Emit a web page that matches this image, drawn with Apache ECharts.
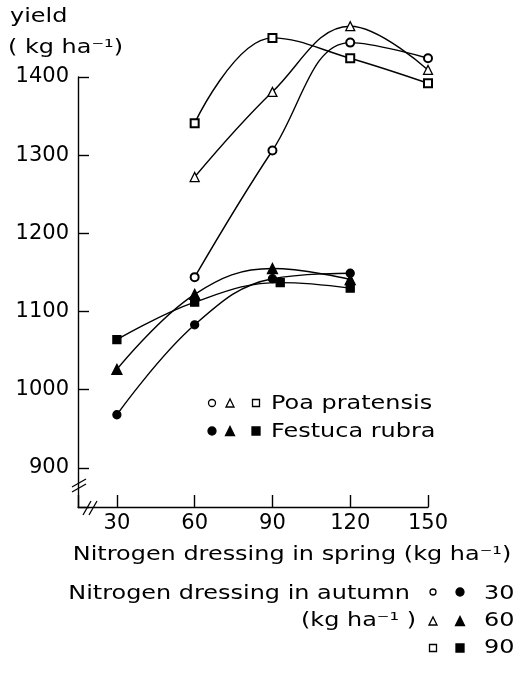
<!DOCTYPE html>
<html>
<head>
<meta charset="utf-8">
<script src="https://cdn.jsdelivr.net/npm/echarts@6/dist/echarts.min.js"></script>
<style>
  html, body { margin: 0; padding: 0; background: #fff; }
  #chart { width: 526px; height: 678px; }
</style>
</head>
<body>
<div id="chart"></div>
<script>
var springN = [30, 60, 90, 120, 150];
// festuca 90 points are drawn slightly offset at 90 in the original
var springNFes90 = [30, 60, 93, 120, 150];

var poa30 = [null, 1144, 1306, 1444, 1424];
var poa60 = [null, 1272, 1381, 1465, 1409];
var poa90 = [null, 1341, 1450, 1424, 1392];
var fes30 = [968, 1083, 1142, 1149, null];
var fes60 = [1026, 1122, 1155, 1141, null];
var fes90 = [1064, 1112, 1137, 1130, null];

var yTicks = [900, 1000, 1100, 1200, 1300, 1400];
var xTicks = [30, 60, 90, 120, 150];

var FONT = 'DejaVu Sans';
var SX = 1.26;
var myChart = echarts.init(document.getElementById('chart'));

function pairs(xs, ys) {
    var out = [];
    for (var i = 0; i < ys.length; i++) {
        if (ys[i] != null) out.push([xs[i], ys[i]]);
    }
    return out;
}

function lineSeries(name, xs, ys, symbol, size, fill) {
    return {
        name: name,
        type: 'line',
        smooth: 0.4,
        clip: false,
        symbol: symbol,
        symbolSize: size,
        showAllSymbol: true,
        lineStyle: { color: '#000', width: 1.4 },
        itemStyle: { color: fill || '#000', borderColor: '#000', borderWidth: 1.3 },
        emphasis: { disabled: true },
        data: pairs(xs, ys)
    };
}

function txt(x, y, text, align) {
    return {
        type: 'text', x: x, y: y, scaleX: SX,
        style: { text: text, font: '19px ' + FONT, fill: '#000', align: align || 'left', verticalAlign: 'middle' }
    };
}
function circ(x, y, r, filled) {
    return { type: 'circle', shape: { cx: x, cy: y, r: r },
        style: { fill: filled ? '#000' : '#fff', stroke: '#000', lineWidth: 1.3 } };
}
function sq(x, y, s, filled) {
    return { type: 'rect', shape: { x: x - s / 2, y: y - s / 2, width: s, height: s },
        style: { fill: filled ? '#000' : '#fff', stroke: '#000', lineWidth: 1.3 } };
}
function triangle(x, y, s, filled) {
    return { type: 'polygon', shape: { points: [[x - s / 2, y + s / 2], [x, y - s / 2], [x + s / 2, y + s / 2]] },
        style: { fill: filled ? '#000' : '#fff', stroke: '#000', lineWidth: 1.3 } };
}
function seg(x1, y1, x2, y2) {
    return { type: 'line', shape: { x1: x1, y1: y1, x2: x2, y2: y2 },
        style: { stroke: '#000', lineWidth: 1.3 } };
}

var graphics = [
    txt(10, 17, 'yield'),
    txt(8, 48, '( kg ha⁻¹)'),
    // axis breaks
    { type: 'rect', shape: { x: 74, y: 481, width: 8, height: 8 }, style: { fill: '#fff' } },
    seg(72, 487, 86, 479), seg(72, 492, 86, 484),
    { type: 'rect', shape: { x: 87, y: 503, width: 7, height: 8 }, style: { fill: '#fff' } },
    seg(83, 515, 91, 501), seg(89, 515, 97, 501),
    // in-plot legend
    circ(212, 403, 3.5, false), triangle(230, 403, 8, false), sq(256, 403, 7, false),
    txt(271, 404, 'Poa pratensis'),
    circ(212, 431, 4, true), triangle(230, 431, 9, true), sq(256, 431, 8, true),
    txt(271, 432, 'Festuca rubra'),
    // x axis name
    txt(292, 555, 'Nitrogen dressing in spring (kg ha⁻¹)', 'center'),
    // autumn legend
    txt(410, 594, 'Nitrogen dressing in autumn', 'right'),
    circ(433, 592, 3, false), circ(460, 592, 4, true), txt(484, 594, '30'),
    txt(416, 621, '(kg ha⁻¹ )', 'right'),
    triangle(433, 621, 8, false), triangle(460, 621, 9, true), txt(484, 621, '60'),
    sq(433, 648, 7, false), sq(460, 648, 8, true), txt(484, 648, '90')
];

var option = {
    backgroundColor: '#fff',
    animation: false,
    textStyle: { fontFamily: FONT },
    grid: { left: 78, right: 98, top: 77, bottom: 171 },
    xAxis: {
        type: 'value',
        min: 15,
        max: 150,
        splitNumber: 5,
        axisLine: { lineStyle: { color: '#000', width: 1.4 } },
        axisTick: { inside: true, length: 12, lineStyle: { color: '#000', width: 1.4 } },
        axisLabel: {
            color: '#000', fontSize: 21, margin: 6,
            formatter: function (v) { return xTicks.indexOf(v) >= 0 ? String(v) : ''; }
        },
        splitLine: { show: false }
    },
    yAxis: {
        type: 'value',
        min: 850,
        max: 1400,
        splitNumber: 5,
        axisLine: { show: true, lineStyle: { color: '#000', width: 1.4 } },
        axisTick: { show: true, inside: true, length: 11, lineStyle: { color: '#000', width: 1.4 } },
        axisLabel: {
            color: '#000', fontSize: 21, margin: 9,
            formatter: function (v) { return yTicks.indexOf(v) >= 0 ? String(v) : ''; }
        },
        splitLine: { show: false }
    },
    series: [
        lineSeries('Poa 30', springN, poa30, 'emptyCircle', 8),
        lineSeries('Poa 60', springN, poa60, 'path://M0,10 L5,0 L10,10 Z', 9, '#fff'),
        lineSeries('Poa 90', springN, poa90, 'emptyRect', 8),
        lineSeries('Festuca 30', springN, fes30, 'circle', 8),
        lineSeries('Festuca 60', springN, fes60, 'triangle', 10),
        lineSeries('Festuca 90', springNFes90, fes90, 'rect', 8)
    ],
    graphic: graphics
};

myChart.setOption(option);
</script>
</body>
</html>
